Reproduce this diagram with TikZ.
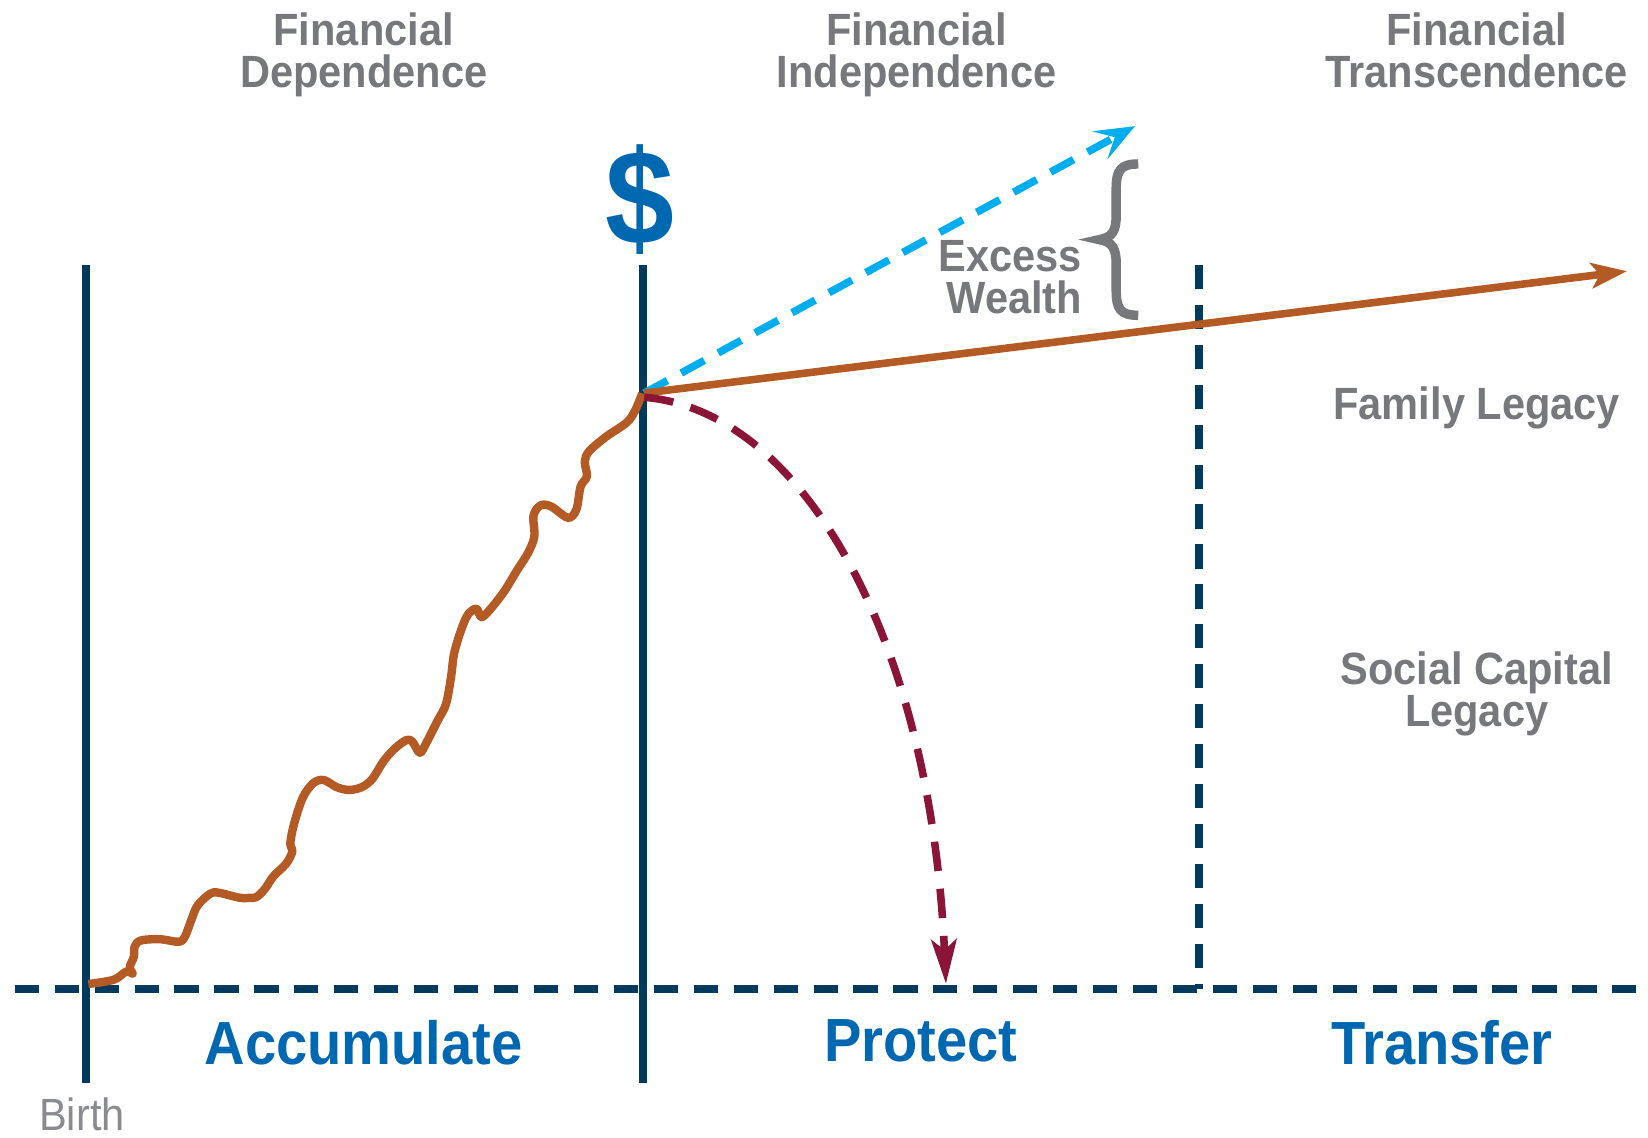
\documentclass[tikz,border=0pt]{standalone}
\usepackage{fontspec}
\setmainfont{Liberation Sans}[FakeStretch=0.92]
\usetikzlibrary{arrows.meta}
\definecolor{navy}{HTML}{003A5D}
\definecolor{ttlgray}{HTML}{77787B}
\definecolor{bgray}{HTML}{8A8B8E}
\definecolor{tblue}{HTML}{0067B1}
\definecolor{cyanb}{HTML}{00AEEF}
\definecolor{rust}{HTML}{B35A25}
\definecolor{maroon}{HTML}{8A1538}
\tikzset{
  vline/.style={navy, line width=4pt},
  dline/.style={navy, line width=4pt, dash pattern=on 11.5pt off 7.5pt},
  title/.style={ttlgray, font=\fontsize{21.5}{20}\selectfont\bfseries, inner sep=0pt, align=center},
  side/.style={ttlgray, font=\fontsize{21.5}{20}\selectfont\bfseries, inner sep=0pt},
  phase/.style={tblue, font=\fontsize{29}{30}\selectfont\bfseries, inner sep=0pt},
  wavy/.style={rust, line width=4pt, line join=round},
}
\begin{document}
\begin{tikzpicture}[x=0.5pt, y=-0.5pt]
\useasboundingbox (0,0) rectangle (1568,1082);
% titles
\node[title, anchor=north] (t1) at (346,12) {Financial\\Dependence};
\node[title, anchor=north] (t2) at (872,12) {Financial\\Independence};
\node[title, anchor=north] (t3) at (1405,12) {Financial\\Transcendence};
% dollar
\node[tblue, font=\fontsize{64}{64}\selectfont\bfseries, inner sep=0pt] (dollar) at (609,190) {\$};
% axes lines
\coordinate (l1t) at (82,252); \coordinate (l1b) at (82,1030);
\coordinate (l2t) at (612,252); \coordinate (l2b) at (612,1030);
\coordinate (l3t) at (1141,252); \coordinate (l3b) at (1141,941);
\coordinate (hl) at (14,941); \coordinate (hr) at (1568,941);
\draw[vline] (l1t) -- (l1b);
\draw[vline] (l2t) -- (l2b);
\draw[dline] (l3t) -- (l3b);
\draw[dline] (hl) -- (hr);
% wavy accumulation curve
\draw[wavy] plot[smooth, tension=0.55] coordinates {
(84.1,936.2) (108.1,932.2) (120.1,924.4) (126.1,926.3) (123.3,920.4) (127.3,910.5) (128.1,900.7)
(134.1,894.8) (152.1,893.6) (170.1,896.0) (176.1,890.8) (182.1,875.1) (188.1,861.3) (200.2,850.2)
(208.2,849.4) (228.2,854.2) (238.2,854.2) (244.2,853.4) (252.2,845.5) (260.2,833.7) (272.2,821.8)
(278.2,810.0) (276.2,802.1) (280.2,782.4) (288.2,758.7) (298.2,745.0) (308.2,742.2) (320.2,748.9)
(332.2,751.6) (344.3,748.9) (354.3,741.0) (364.3,725.2) (374.3,713.4) (386.3,704.3) (392.3,705.5)
(399.5,716.2) (406.3,705.5) (416.3,685.8) (424.3,670.0) (429.1,644.4) (432.3,620.7) (440.3,595.1)
(446.3,583.3) (453.5,579.3) (458.3,587.2) (468.4,577.4) (480.4,561.6) (492.4,541.9) (502.4,526.1)
(508.4,510.3) (507.6,490.6) (514.4,480.8) (524.4,481.9) (540.4,492.6) (548.4,484.7) (552.4,463.0)
(558.4,453.2) (556.4,439.4) (560.4,429.5) (576.4,415.7) (596.4,401.9) (604.5,390.1) (611,374.3)};
% branching arrows
\coordinate (peak) at (613,374);
\coordinate (bluetip) at (1080,120);
\coordinate (rusttip) at (1548,258);
\coordinate (redtip) at (900,936);
\draw[cyanb, line width=3.6pt, dash pattern=on 12.5pt off 7.5pt,
  -{Stealth[length=19pt, width=15pt, inset=8pt]}] (peak) -- (bluetip);
\draw[rust, line width=3.6pt, -{Stealth[length=17pt, width=12pt, inset=4pt]}] (peak) -- (rusttip);
\draw[maroon, line width=3.6pt, dash pattern=on 14pt off 8.5pt,
  -{Stealth[length=21pt, width=12pt, inset=5pt]}]
  ([yshift=-2pt]peak) .. controls (760,390) and (885,600) .. (redtip);
% brace
\draw[ttlgray, line width=4.5pt] (1083,156) .. controls (1066,156) and (1062,162) .. (1062,180)
  -- (1062,205) .. controls (1062,220) and (1058,226) .. (1046,228)
  .. controls (1058,230) and (1062,236) .. (1062,251) -- (1062,276)
  .. controls (1062,294) and (1066,300) .. (1083,300);
\node[side, anchor=north east, align=right] (excess) at (1030,228) {Excess\\Wealth};
\node[side, anchor=north] (family) at (1405,368) {Family Legacy};
\node[side, anchor=north, align=center] (social) at (1405,620) {Social Capital\\Legacy};
% phases
\node[phase, anchor=north] (acc) at (346,970) {Accumulate};
\node[phase, anchor=north] (pro) at (876,970) {Protect};
\node[phase, anchor=north] (tra) at (1372,970) {Transfer};
\node[bgray, font=\fontsize{21.5}{20}\selectfont, inner sep=0pt, anchor=north] (birth) at (78,1044) {Birth};
\end{tikzpicture}
\end{document}
